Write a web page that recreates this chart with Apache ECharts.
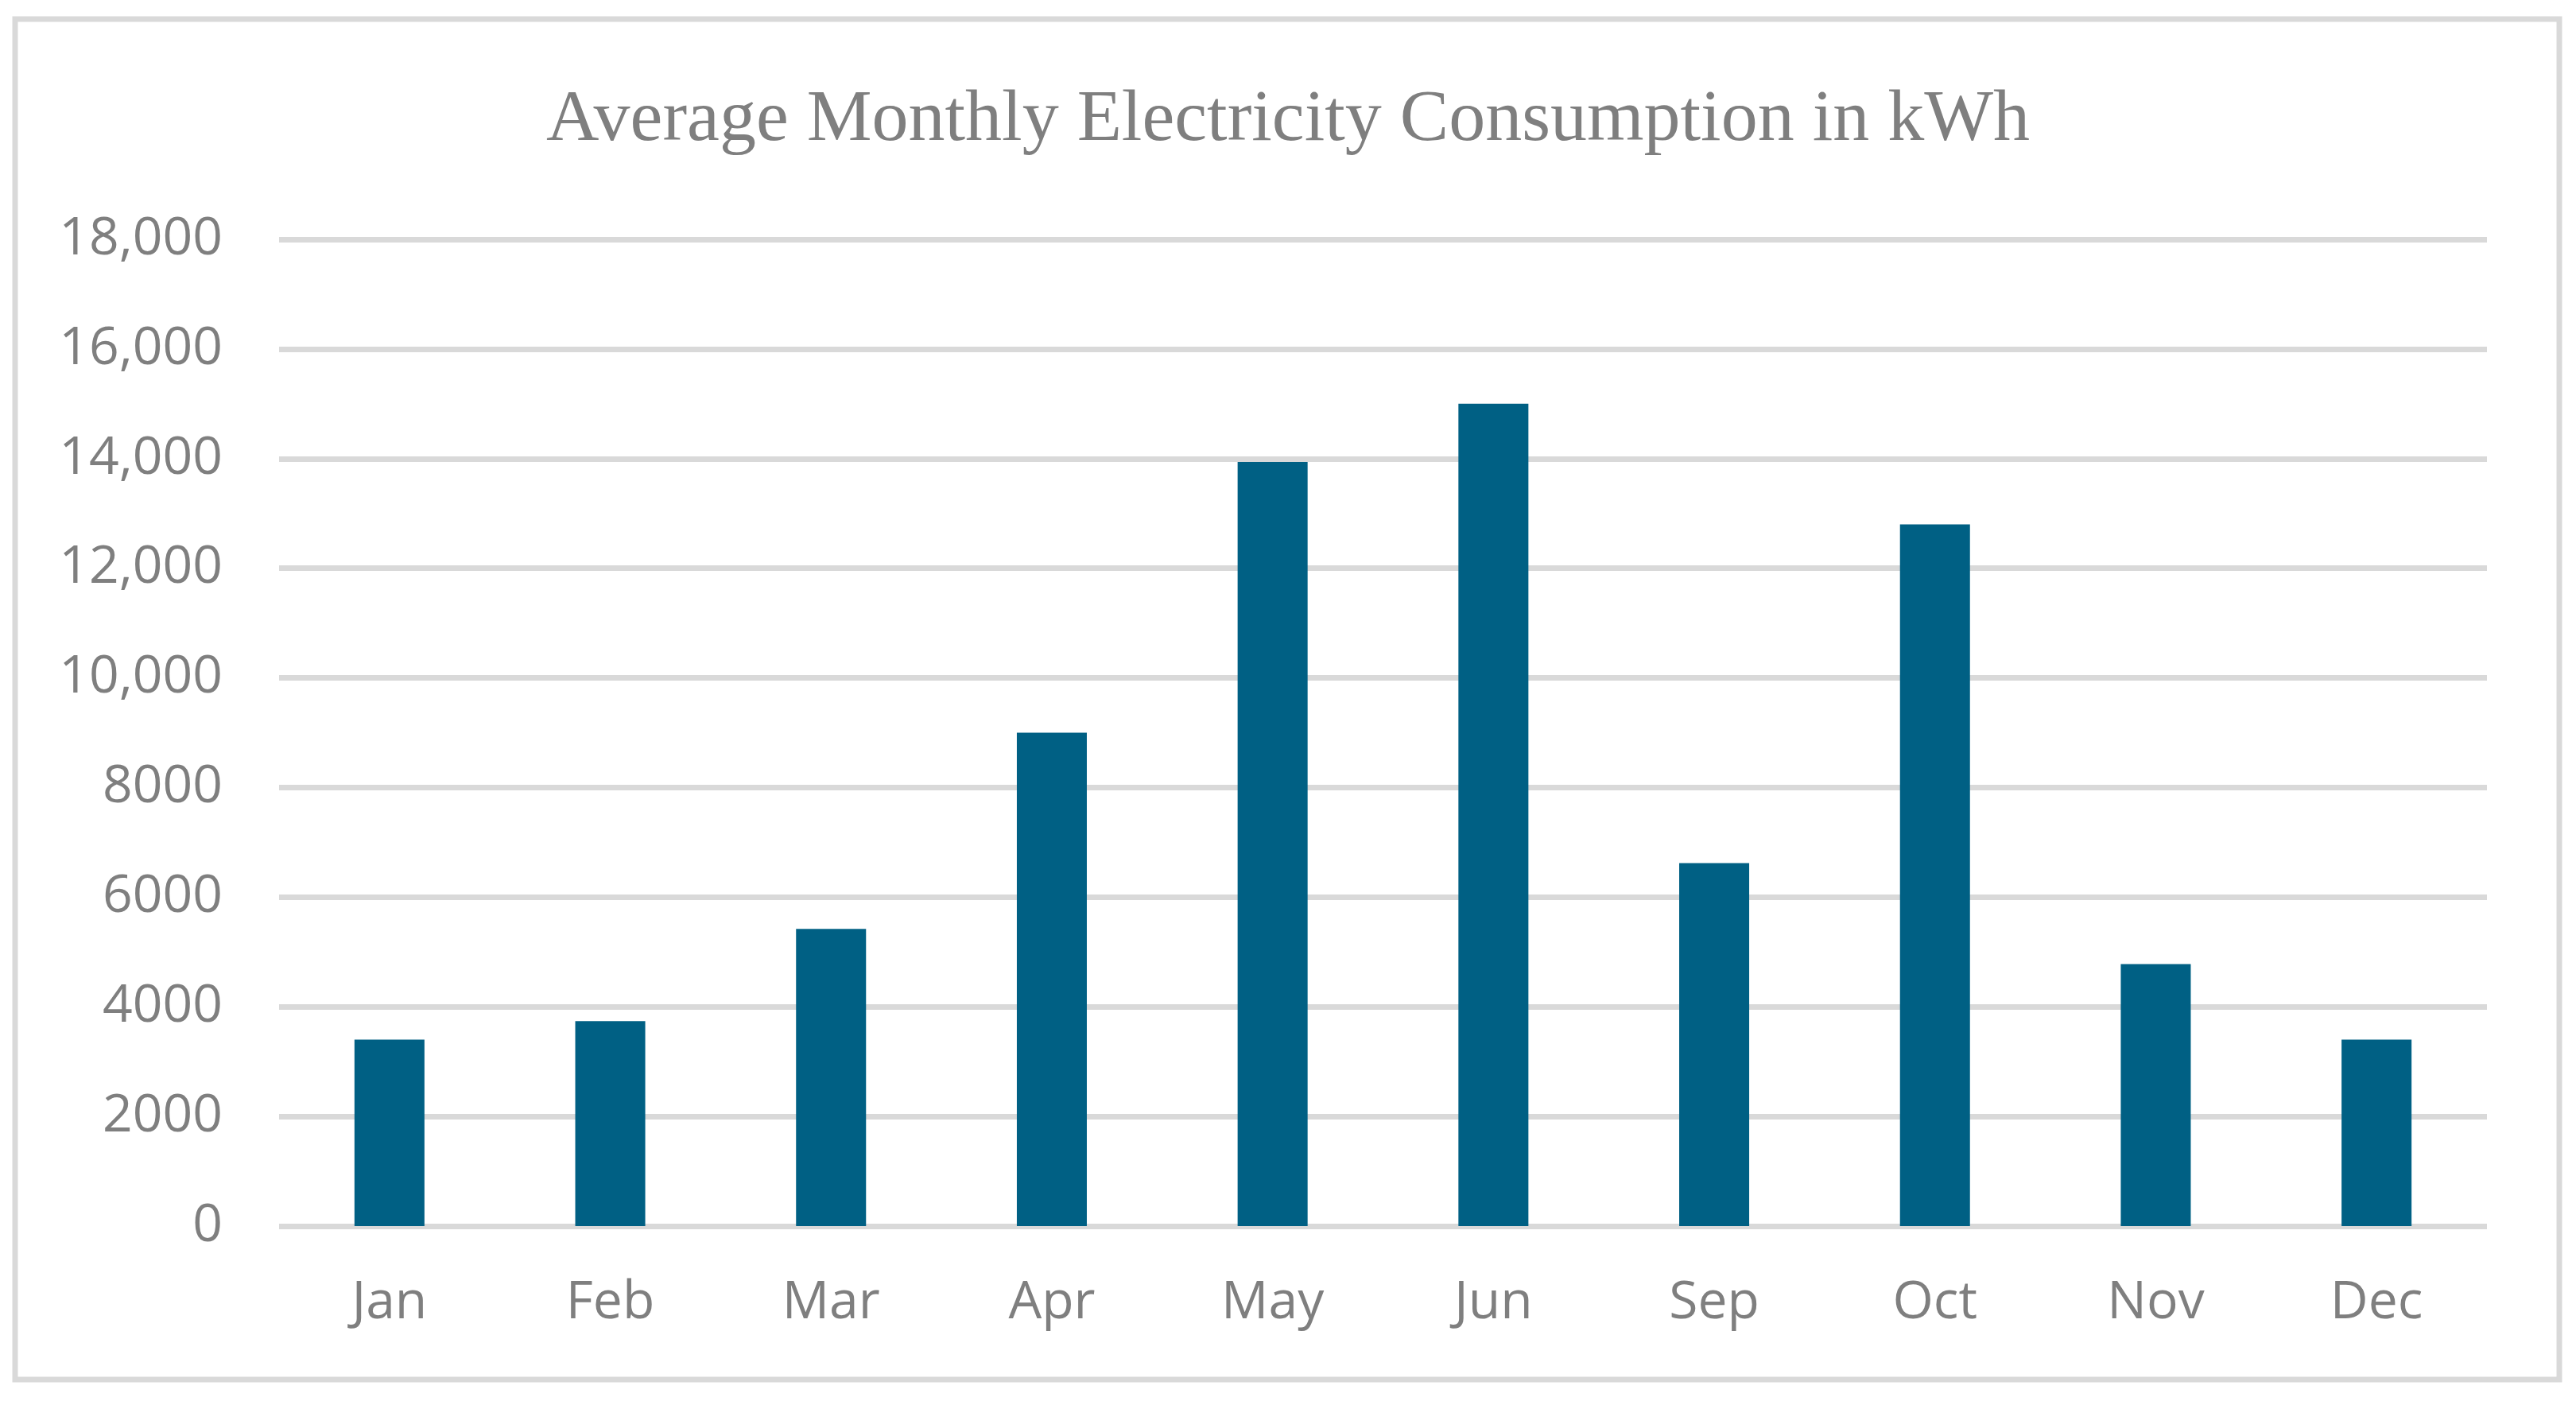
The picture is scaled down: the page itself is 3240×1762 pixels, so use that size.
<!DOCTYPE html>
<html>
<head>
<meta charset="utf-8">
<style>
  html, body { margin: 0; padding: 0; background: #ffffff; }
  #chart { width: 3240px; height: 1762px; }
</style>
<script src="https://cdn.jsdelivr.net/npm/echarts@6/dist/echarts.min.js"></script>
</head>
<body>
<div id="chart"></div>
<script>
const titleText = 'Average Monthly Electricity Consumption in kWh';
const months = ['Jan', 'Feb', 'Mar', 'Apr', 'May', 'Jun', 'Sep', 'Oct', 'Nov', 'Dec'];
const consumption = [3400, 3740, 5420, 9000, 13940, 15000, 6620, 12800, 4780, 3400];
const yTickLabels = ['0', '2000', '4000', '6000', '8000', '10,000', '12,000', '14,000', '16,000', '18,000'];
const yMax = 18000;
const yStep = 2000;

const chart = echarts.init(document.getElementById('chart'), null, { renderer: 'canvas' });
chart.setOption({
  backgroundColor: '#ffffff',
  animation: false,
  title: {
    text: titleText,
    left: 'center',
    top: 101,
    textStyle: {
      fontFamily: '"Liberation Serif", "DejaVu Serif", serif',
      fontWeight: 'normal',
      fontSize: 92,
      color: '#7f7f7f'
    }
  },
  graphic: [{
    type: 'rect',
    silent: true,
    shape: { x: 19, y: 24, width: 3200, height: 1711 },
    style: { fill: 'none', stroke: '#d9d9d9', lineWidth: 7 }
  }],
  grid: { left: 351, right: 112, top: 301, bottom: 220, containLabel: false },
  xAxis: {
    type: 'category',
    data: months,
    axisLine: { show: false },
    axisTick: { show: false },
    axisLabel: {
      margin: 64,
      fontFamily: '"Open Sans", "Noto Sans", sans-serif',
      fontSize: 66,
      color: '#7f7f7f'
    }
  },
  yAxis: {
    type: 'value',
    min: 0,
    max: yMax,
    interval: yStep,
    axisLine: { show: false },
    axisTick: { show: false },
    splitLine: { lineStyle: { color: '#d9d9d9', width: 7 } },
    axisLabel: {
      margin: 71,
      fontFamily: '"Open Sans", "Noto Sans", sans-serif',
      fontSize: 66,
      color: '#7f7f7f',
      formatter: function (v) { return yTickLabels[Math.round(v / yStep)]; }
    }
  },
  series: [{
    type: 'bar',
    data: consumption,
    barWidth: '31.7%',
    itemStyle: { color: '#006084' }
  }]
});
</script>
</body>
</html>
